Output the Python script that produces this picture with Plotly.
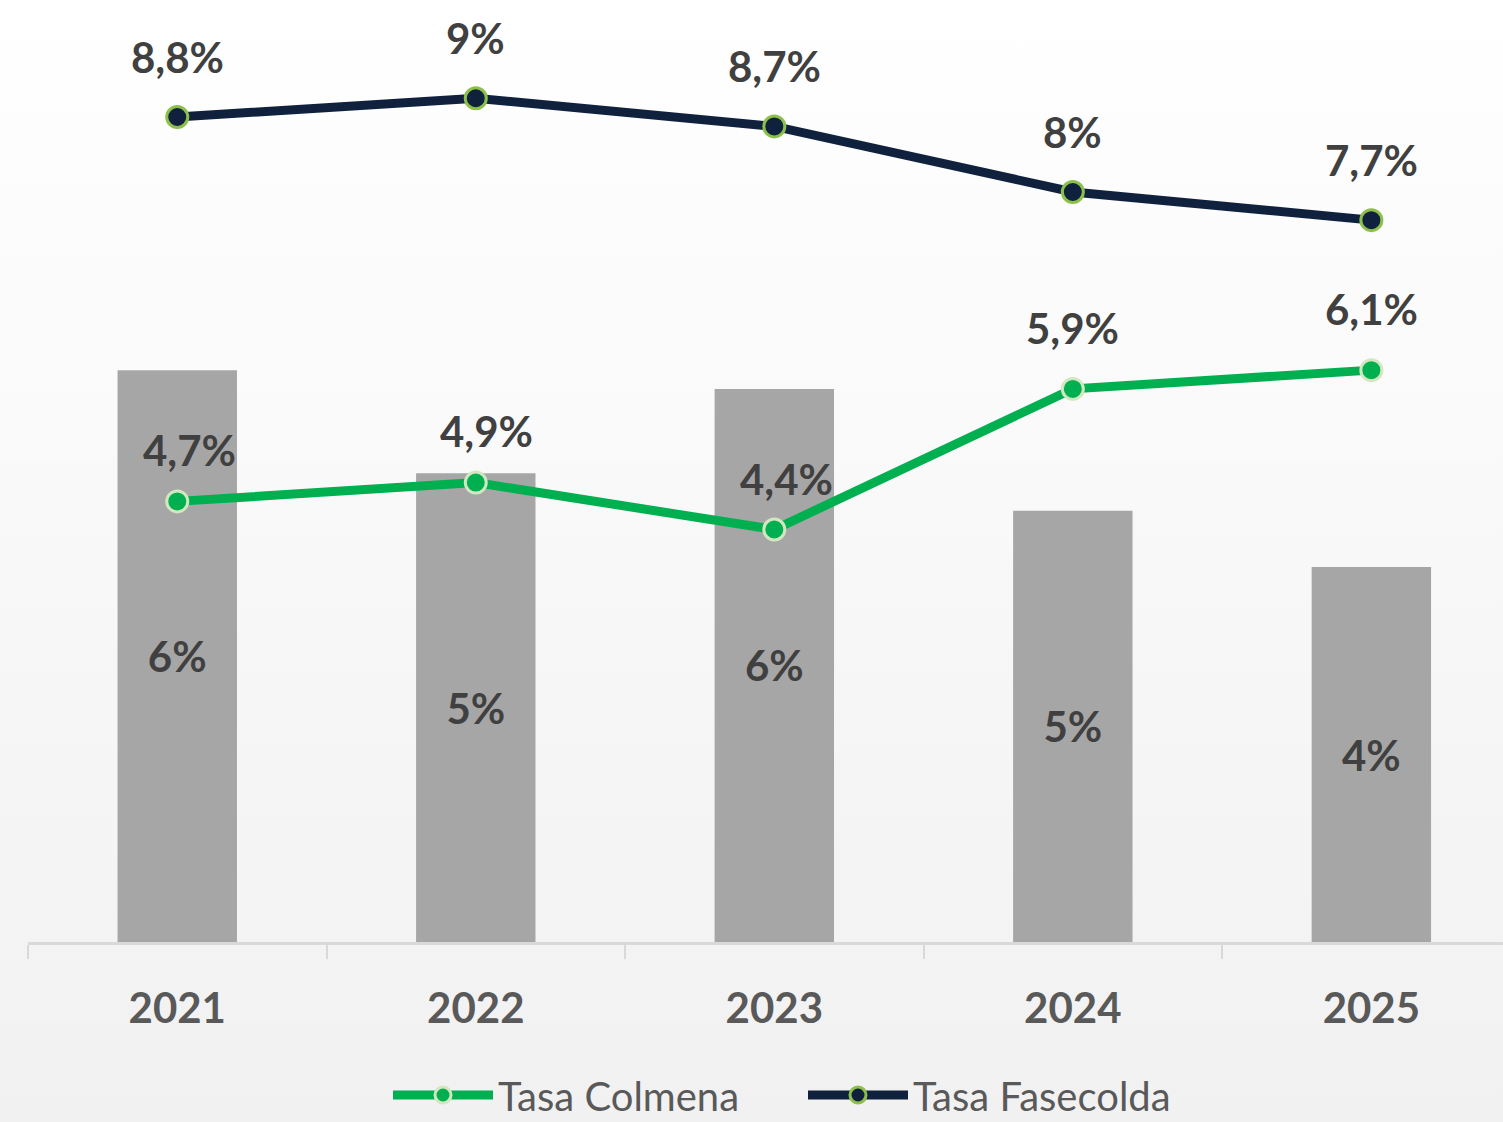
import base64
import plotly.graph_objects as go

years = ["2021", "2022", "2023", "2024", "2025"]
bar_values = [6.1, 5.0, 5.9, 4.6, 4.0]
colmena = [4.7, 4.9, 4.4, 5.9, 6.1]
fasecolda = [8.8, 9.0, 8.7, 8.0, 7.7]

# label nudges (pixels) used by the original chart's data labels
colmena_label_dx = [12, 11, 12, 0, 0]
colmena_label_dy = [51, 52, 51, 61, 61]

FONT = "Lato"
LABEL_COLOR = "#404040"
BOLD = dict(family=FONT, size=42, color=LABEL_COLOR, weight="bold")


def fmt(v):
    return f"{v:g}".replace(".", ",") + "%"


fig = go.Figure()

fig.add_trace(go.Bar(
    x=years, y=bar_values, width=0.4,
    marker=dict(color="#a6a6a6", line=dict(width=0)),
    texttemplate="%{y:.0f}%", textposition="inside", insidetextanchor="middle",
    textfont=BOLD, showlegend=False, name="Tasa",
))

fig.add_trace(go.Scatter(
    x=years, y=colmena, mode="lines+markers", name="Tasa Colmena",
    line=dict(color="#00b050", width=9),
    marker=dict(size=21, color="#00b050", line=dict(color="#d2e7bf", width=3)),
))

fig.add_trace(go.Scatter(
    x=years, y=fasecolda, mode="lines+markers", name="Tasa Fasecolda",
    line=dict(color="#10213d", width=9),
    marker=dict(size=21, color="#10213d", line=dict(color="#8cc04a", width=3)),
))

annotations = []
for i, v in enumerate(fasecolda):
    annotations.append(dict(x=i, y=v, xref="x", yref="y", text=fmt(v), showarrow=False,
                            yshift=60, font=BOLD))
for i, v in enumerate(colmena):
    annotations.append(dict(x=i, y=v, xref="x", yref="y", text=fmt(v), showarrow=False,
                            xshift=colmena_label_dx[i], yshift=colmena_label_dy[i], font=BOLD))

svg = ('<svg xmlns="http://www.w3.org/2000/svg" width="100" height="100" preserveAspectRatio="none">'
       '<defs><linearGradient id="g" x1="0" y1="0" x2="0" y2="1">'
       '<stop offset="0" stop-color="#ffffff"/><stop offset="1" stop-color="#f1f1f1"/>'
       '</linearGradient></defs><rect width="100" height="100" fill="url(#g)"/></svg>')
src = "data:image/svg+xml;base64," + base64.b64encode(svg.encode()).decode()

W, H = 1503, 1122
ML, MB = 28, 180
pw, ph = W - ML, H - MB

fig.update_layout(
    width=W, height=H,
    margin=dict(l=ML, r=0, t=0, b=MB, autoexpand=False),
    paper_bgcolor="#f5f5f5", plot_bgcolor="rgba(0,0,0,0)",
    font=dict(family=FONT, color="#595959"),
    annotations=annotations,
    images=[dict(source=src, xref="paper", yref="paper", x=-ML / pw, y=1,
                 sizex=W / pw, sizey=H / ph, xanchor="left", yanchor="top",
                 sizing="stretch", layer="below")],
    xaxis=dict(type="category", range=[-0.5, 4.441], showline=True, linecolor="#d9d9d9",
               linewidth=3, ticks="outside", tickson="boundaries", ticklen=14,
               tickcolor="#d9d9d9", tickwidth=2, showgrid=False, zeroline=False,
               tickfont=dict(family=FONT, size=42, color="#595959", weight="bold"),
               ticklabelstandoff=28),
    yaxis=dict(range=[0, ph / 93.75], visible=False, showgrid=False, zeroline=False),
    legend=dict(orientation="h", x=(388 - ML) / pw, xanchor="left",
                y=(ph - 1095) / ph, yanchor="middle",
                font=dict(family=FONT, size=40, color="#595959"), itemwidth=100,
                entrywidth=300, entrywidthmode="pixels",
                bgcolor="rgba(0,0,0,0)", traceorder="normal"),
    bargap=0.6,
)

fig.write_html("out.html", config={"displayModeBar": False},
               post_script="document.body.style.margin='0px';")
